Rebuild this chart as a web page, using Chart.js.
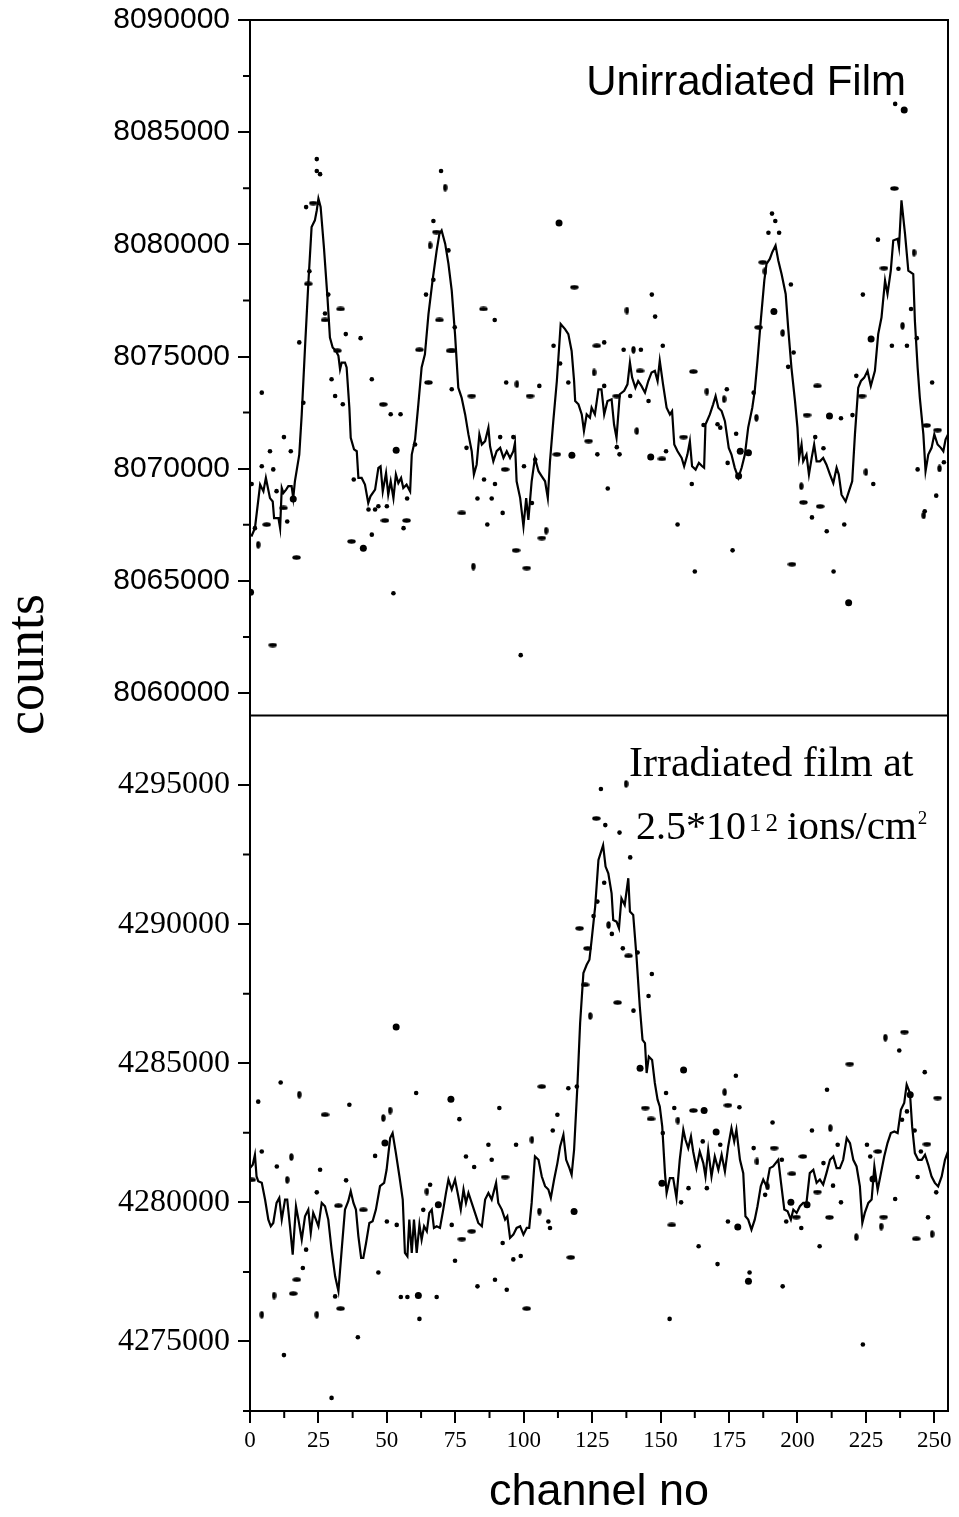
<!DOCTYPE html>
<html>
<head>
<meta charset="utf-8">
<script src="https://cdn.jsdelivr.net/npm/chart.js@4/dist/chart.umd.min.js"></script>
<style>
html,body{margin:0;padding:0;background:#fff;}
#wrap{position:relative;width:959px;height:1517px;}
</style>
</head>
<body>
<div id="wrap"><canvas id="c" width="959" height="1517"></canvas></div>
<script>
// ---------------- DATA ----------------
const xTickValues = [0, 25, 50, 75, 100, 125, 150, 175, 200, 225, 250];
const xMinorTicks = [12.5, 37.5, 62.5, 87.5, 112.5, 137.5, 162.5, 187.5, 212.5, 237.5];
const topTickValues = [8060000, 8065000, 8070000, 8075000, 8080000, 8085000, 8090000];
const topMinorTicks = [8062500, 8067500, 8072500, 8077500, 8082500, 8087500];
const bottomTickValues = [4275000, 4280000, 4285000, 4290000, 4295000];
const bottomMinorTicks = [4272500, 4277500, 4282500, 4287500, 4292500];

// Unirradiated film: [channel, counts]
const topSpectrum = [
[0.5,8066980],[1.8,8067350],[3.7,8069290],[4.9,8068990],[5.8,8069590],[7.3,8068690],[8.3,8068540],[8.8,8067800],
[10.4,8067800],[11.0,8067350],[11.6,8069140],[12.2,8068920],[13.2,8069070],[14.0,8069220],[15.2,8069220],[15.8,8068690],
[16.4,8069440],[18.0,8070630],[18.9,8072420],[20.1,8075400],[21.3,8078240],[22.5,8080770],[23.7,8081070],[24.4,8081520],
[25.0,8082040],[25.8,8081670],[27.0,8079880],[28.3,8077640],[29.2,8075850],[30.2,8075400],[31.4,8075250],[32.3,8075030],
[32.9,8074430],[33.5,8074730],[34.7,8074730],[35.3,8074510],[36.3,8072720],[36.8,8071380],[38.0,8070860],[39.0,8070780],
[39.6,8069590],[40.8,8069590],[42.0,8069290],[43.2,8068470],[44.0,8068770],[45.7,8069070],[46.9,8070040],[47.7,8070110],
[48.5,8068990],[49.7,8069810],[50.5,8068840],[51.4,8069440],[52.4,8068690],[53.3,8069740],[54.2,8069360],[55.2,8069590],
[56.0,8069140],[57.2,8069290],[58.5,8068990],[59.1,8070630],[60.3,8071300],[61.5,8072870],[62.7,8074510],[63.9,8075100],
[65.2,8076890],[66.7,8078390],[68.2,8079730],[69.2,8080470],[70.0,8080620],[71.3,8080030],[72.5,8079130],[73.7,8077940],
[74.9,8076000],[76.1,8073610],[77.3,8073170],[78.6,8072420],[79.8,8071530],[81.0,8070780],[81.8,8069740],[82.8,8070180],
[83.8,8071530],[84.7,8071080],[85.9,8071230],[87.1,8071830],[87.7,8071000],[88.9,8070330],[90.1,8070780],[91.4,8070930],
[92.6,8070480],[93.8,8070780],[95.0,8070480],[96.2,8070780],[96.8,8071150],[97.4,8069440],[98.7,8068690],[99.9,8067430],
[100.9,8068690],[101.7,8067720],[102.9,8069440],[104.1,8070480],[105.4,8069890],[106.6,8069660],[107.8,8069440],[108.8,8068690],
[109.6,8070330],[110.8,8072120],[112.1,8073910],[113.5,8076450],[115.1,8076220],[116.3,8076000],[117.5,8075250],[118.4,8073910],
[118.8,8073020],[120.0,8072870],[121.2,8072420],[122.0,8071680],[123.0,8072420],[124.2,8072270],[124.8,8072720],[126.0,8072420],
[127.3,8073540],[128.4,8073540],[129.4,8072420],[130.6,8073020],[132.1,8073090],[133.0,8071970],[133.9,8071380],[135.1,8073320],
[136.7,8073470],[137.9,8073760],[138.8,8074730],[139.6,8074060],[140.8,8073610],[141.8,8073910],[143.0,8073690],[144.3,8073390],
[145.5,8073910],[146.7,8074290],[147.9,8074360],[148.9,8073910],[149.7,8074810],[150.9,8073760],[152.2,8072720],[153.4,8072420],
[154.2,8072570],[155.0,8071080],[156.2,8070780],[157.7,8070480],[158.6,8070110],[159.8,8070630],[160.7,8071230],[161.5,8070110],
[162.8,8069960],[164.0,8070260],[165.2,8070110],[165.9,8070040],[166.4,8071970],[168.0,8072420],[169.2,8072870],[170.1,8073240],
[171.1,8072720],[172.3,8072570],[173.5,8072120],[174.9,8070930],[175.9,8070630],[177.1,8070040],[178.4,8069590],[179.6,8070040],
[180.8,8070630],[182.0,8071830],[183.5,8072720],[184.4,8073470],[185.4,8074810],[186.6,8076600],[187.9,8078390],[188.7,8079130],
[189.9,8079350],[190.8,8079650],[192.0,8079950],[193.0,8079280],[194.2,8078680],[195.7,8077790],[196.6,8076300],[197.8,8074510],
[199.1,8073020],[200.0,8071830],[200.6,8070480],[201.5,8071080],[202.1,8070330],[203.3,8070630],[204.2,8069740],[205.2,8070480],
[206.1,8071080],[207.0,8070330],[208.2,8070330],[209.4,8070480],[210.6,8070180],[211.9,8069740],[213.1,8069360],[214.3,8070040],
[215.1,8069740],[216.1,8068840],[217.6,8068540],[218.8,8068990],[220.0,8069440],[221.0,8071530],[222.2,8073610],[223.2,8073910],
[224.4,8074060],[225.6,8074360],[226.8,8073690],[228.3,8074360],[229.5,8076000],[230.7,8076740],[232.0,8078390],[232.9,8077790],
[234.1,8078830],[235.0,8080170],[236.6,8080250],[237.1,8079880],[238.0,8081960],[239.3,8080470],[240.5,8078830],[242.3,8078680],
[242.9,8076600],[243.9,8074510],[244.7,8073170],[246.0,8071530],[246.8,8069890],[247.8,8070630],[249.0,8070930],[250.0,8071530],
[251.2,8071080],[252.4,8070930],[253.3,8070780],[254.1,8071300],[255.0,8071530]
];

// Irradiated film: [channel, counts]
const bottomSpectrum = [
[0.0,4281230],[1.0,4281350],[1.8,4281710],[2.4,4280930],[3.0,4280760],[4.3,4280700],[5.5,4280100],[6.7,4279380],
[7.6,4279140],[8.5,4279260],[9.7,4279980],[10.7,4280160],[11.6,4279380],[12.8,4280100],[13.6,4280100],[14.6,4279140],
[15.6,4278120],[16.8,4279860],[17.7,4279380],[18.9,4278660],[20.1,4279500],[21.3,4279740],[22.2,4278900],[23.1,4279620],
[24.1,4279380],[25.0,4279140],[26.2,4279980],[27.4,4279860],[28.6,4279380],[29.8,4278300],[31.1,4277340],[32.3,4276810],
[33.5,4278300],[34.7,4279740],[35.9,4280040],[36.8,4280400],[37.8,4279980],[38.7,4279740],[39.6,4278780],[40.6,4278000],
[41.4,4278000],[42.4,4278540],[43.6,4279260],[44.8,4279320],[46.0,4279740],[47.5,4280580],[49.0,4280700],[49.9,4281170],
[51.2,4282310],[52.1,4282490],[53.3,4281770],[54.6,4280930],[55.8,4280100],[56.6,4278180],[57.5,4278060],[58.2,4279380],
[59.1,4278180],[59.9,4279380],[60.9,4278180],[61.9,4279200],[62.7,4278660],[63.6,4279140],[64.6,4278960],[65.5,4279620],
[66.4,4279740],[67.2,4279080],[68.2,4279140],[69.4,4279080],[70.6,4279740],[71.6,4280340],[72.5,4280820],[73.7,4280460],
[74.9,4280820],[76.1,4280220],[77.0,4279740],[78.0,4280460],[78.9,4279980],[79.8,4280340],[81.0,4279980],[82.2,4279620],
[83.4,4279260],[84.7,4279140],[85.9,4280100],[87.1,4280340],[88.3,4280100],[89.9,4280700],[90.7,4279980],[92.0,4279740],
[93.2,4279380],[94.0,4279500],[95.0,4278720],[96.2,4278840],[97.4,4279080],[98.7,4279140],[99.9,4278840],[101.1,4279080],
[102.0,4279080],[102.9,4279980],[104.1,4281650],[105.4,4281530],[106.6,4280930],[107.8,4280580],[109.0,4280460],[109.9,4280160],
[111.1,4280820],[112.3,4281410],[113.3,4282010],[114.5,4282430],[115.5,4281530],[116.7,4281230],[117.5,4280990],[118.4,4281890],
[119.6,4284170],[120.6,4286440],[121.8,4288240],[123.0,4288540],[124.0,4288720],[124.8,4289430],[126.1,4290630],[127.3,4292310],
[129.0,4292840],[129.9,4292070],[130.9,4291830],[132.1,4291110],[132.7,4290150],[133.9,4290090],[134.8,4289850],[135.7,4290930],
[136.9,4290690],[138.2,4291650],[138.8,4290450],[140.0,4290330],[141.2,4288830],[142.4,4287040],[143.4,4285840],[144.3,4285720],
[144.9,4284650],[145.7,4285240],[146.9,4285120],[147.9,4284290],[148.9,4283690],[149.7,4283450],[150.6,4282730],[151.6,4281050],
[152.2,4280340],[153.4,4280870],[154.6,4280870],[155.8,4280160],[157.0,4281530],[158.3,4282610],[159.1,4282250],[160.1,4281950],
[161.1,4282370],[161.9,4281830],[163.1,4281230],[164.3,4281830],[165.6,4281410],[166.4,4280930],[167.4,4281890],[168.6,4280930],
[169.8,4281650],[171.1,4281170],[172.3,4281710],[173.5,4281110],[174.7,4282010],[175.9,4282670],[176.9,4282190],[177.7,4282610],
[179.0,4281530],[180.2,4281050],[181.0,4279500],[182.0,4279380],[183.2,4279020],[184.4,4279380],[185.4,4279860],[186.6,4280580],
[187.5,4280820],[188.7,4280580],[189.9,4281230],[191.1,4281290],[193.0,4281530],[194.0,4280700],[195.2,4279740],[196.4,4279680],
[197.6,4279380],[198.5,4279740],[199.7,4279620],[200.9,4279860],[202.1,4279980],[203.3,4279980],[204.5,4281050],[205.8,4281170],
[207.0,4280700],[208.2,4280820],[209.4,4280640],[210.6,4281050],[211.9,4281530],[213.1,4281650],[214.3,4281230],[215.5,4281230],
[216.7,4281530],[218.0,4282310],[219.2,4282130],[220.4,4281530],[221.6,4281290],[222.8,4280580],[223.7,4279260],[224.6,4279620],
[225.9,4279980],[227.1,4280100],[228.1,4281290],[229.3,4280450],[230.5,4281050],[231.7,4281650],[232.9,4282130],[234.1,4282490],
[235.4,4282550],[236.6,4282490],[237.8,4283330],[239.0,4283570],[239.9,4284230],[241.1,4283930],[241.9,4282730],[242.9,4281770],
[244.1,4281530],[245.4,4281530],[246.6,4281710],[247.8,4281350],[249.0,4280930],[250.2,4280700],[251.4,4280570],[252.7,4280930],
[253.9,4281530],[255.0,4281830]
];

// Scattered raw points, top panel: [channel, counts]
const topDotsSmall = [
[24.4,8083800],[24.4,8083270],[25.6,8083130],[20.5,8081660],[21.7,8078800],[28.6,8077760],[27.4,8076920],[35.0,8076000],
[40.4,8075820],[18.0,8075630],[69.8,8083270],[67.0,8081040],[72.5,8079730],[67.0,8078420],[64.3,8077760],[74.8,8076300],
[235.7,8086260],[229.4,8080210],[236.9,8078910],[223.9,8077760],[241.5,8077120],[234.5,8075480],[240.0,8075480],[243.6,8075820],
[89.4,8076630],[110.9,8075480],[129.4,8075630],[146.8,8077760],[148.0,8076780],[136.5,8075300],[142.8,8075300],[150.8,8075480],
[190.7,8081370],[191.9,8081040],[189.4,8080520],[193.3,8080520],[197.6,8078210],[198.6,8075180],[113.3,8074690],
[4.3,8073390],[0.6,8069320],[1.8,8067350],[7.3,8070780],[4.3,8070110],[8.5,8069970],[12.4,8071410],[14.9,8070780],
[9.7,8069000],[13.6,8067650],[19.5,8072940],[29.8,8073990],[31.1,8073240],[33.9,8072870],[44.5,8073990],[51.4,8072430],
[55.0,8072430],[37.9,8069520],[43.3,8068180],[45.7,8068180],[46.9,8068330],[50.0,8068330],[44.5,8067060],[56.1,8067350],
[57.4,8068670],[52.4,8064450],[73.7,8073540],[79.1,8070930],[83.1,8068670],[60.3,8071080],
[93.6,8073840],[105.7,8073690],[116.3,8073840],[129.4,8073690],[138.9,8073240],[145.6,8073020],[85.5,8069520],[89.5,8069320],
[91.4,8071410],[96.2,8071410],[88.3,8068670],[92.3,8068030],[86.7,8067510],[100.1,8070110],[104.2,8070410],[103.0,8068470],
[98.9,8061690],[126.9,8070640],[130.7,8069120],[134.0,8070960],[135.0,8070640],[152.0,8070780],[156.2,8067510],[161.4,8069320],
[162.5,8065420],[174.2,8073540],[170.8,8071980],[171.8,8071830],[165.7,8071950],[177.6,8071560],[174.5,8070260],[184.0,8073390],
[176.3,8066360],[196.6,8074540],[206.5,8071410],[209.5,8070910],[205.3,8067830],[210.7,8067210],[217.1,8067510],[213.2,8065420],
[221.5,8074140],[227.7,8069320],[249.2,8073840],[253.5,8070290],[243.9,8069970],[250.7,8068800],[215.9,8072250],[220.1,8072390],
[246.5,8068100]
];
const topDotsWide = [
[23.1,8081840],[21.3,8078240],[27.4,8076630],[33.1,8077120],[31.9,8075260],[68.1,8080550],[69.2,8076630],[61.9,8075300],
[73.1,8075260],[74.1,8075260],[235.4,8082490],[231.6,8078940],[118.5,8078090],[85.3,8077120],[126.7,8075480],[187.3,8079200],
[185.8,8076300],[6.1,8067510],[12.2,8068250],[17.0,8066040],[8.3,8062140],[48.7,8072870],[37.1,8066760],[49.3,8067690],
[57.2,8067690],[65.2,8073840],[81.0,8073240],[77.4,8068030],[102.3,8073240],[134.0,8073240],[142.5,8074360],[93.2,8069970],
[106.6,8066910],[97.2,8066360],[101.1,8065570],[112.1,8070640],[123.7,8071230],[150.5,8070440],[158.4,8071410],[162.0,8074330],
[198.0,8065740],[207.3,8073690],[203.5,8072390],[202.2,8068500],[208.3,8068320],[223.6,8073240],[247.2,8071930],[251.2,8071720]
];
const topDotsTall = [
[71.3,8082530],[65.8,8079950],[242.6,8079630],[238.4,8076370],[137.7,8077050],[140.1,8075300],[188.1,8078800],[194.6,8076050],
[3.0,8066610],[81.6,8065640],[97.5,8073770],[125.7,8074290],[141.3,8071680],[108.2,8067240],[166.9,8073440],[173.2,8073100],
[185.0,8072270],[201.4,8069220],[225.0,8069850],[251.9,8070010],[246.1,8067920]
];
const topDotsBig = [
[239.0,8085990],[226.9,8075780],[112.9,8080950],[191.4,8077010],[0.2,8064490],[15.8,8068650],[53.4,8070820],[41.4,8066460],
[117.6,8070600],[146.4,8070520],[179.1,8070780],[182.1,8070710],[178.5,8069670],[211.7,8072350],[218.7,8064030]
];

// Scattered raw points, bottom panel: [channel, counts]
const bottomDotsSmall = [
[128.2,4294860],[129.8,4293560],[135.0,4293290],[138.9,4292400],[129.4,4291490],[126.9,4290810],[125.5,4290290],[132.2,4289650],
[136.2,4289130],[141.6,4288980],[146.8,4288210],[145.6,4287420],[140.1,4286890],[237.2,4285460],[246.5,4284680],[177.5,4284550],
[11.2,4284310],[3.0,4283620],[36.3,4283510],[60.7,4283930],[76.5,4282990],[4.3,4281830],[9.8,4281290],[25.6,4281170],
[24.4,4280360],[45.7,4281670],[35.1,4280790],[50.0,4279310],[53.6,4279190],[63.3,4279730],[65.8,4280630],[78.9,4281650],
[81.9,4281270],[73.7,4279190],[74.9,4277900],[83.1,4276980],[20.5,4278300],[19.3,4277640],[12.4,4274510],[31.1,4276620],
[39.4,4275150],[29.8,4272970],[46.9,4277480],[55.1,4276600],[57.5,4276600],[61.9,4275810],[68.2,4276600],
[116.3,4284100],[119.4,4284160],[91.1,4283390],[87.1,4282070],[88.3,4281530],[97.2,4282070],[112.3,4283150],[110.6,4282580],
[109.0,4279310],[109.6,4279080],[92.3,4278540],[96.2,4277950],[98.9,4278070],[89.5,4277220],[93.8,4276860],[152.0,4283930],
[155.0,4283390],[150.8,4282490],[165.4,4282190],[171.8,4282070],[160.2,4280510],[166.9,4280510],[157.5,4280000],[163.9,4278420],
[170.8,4277780],[153.3,4275810],[174.6,4279310],[182.5,4277480],[184.0,4281950],[190.9,4282870],[194.3,4281530],[188.2,4280270],
[195.9,4279310],[201.4,4279080],[194.6,4276980],[205.3,4282580],[210.8,4284050],[209.5,4281410],[213.0,4280600],[215.9,4280000],
[208.1,4278420],[214.7,4282070],[225.4,4282070],[226.6,4281650],[223.9,4274890],[235.7,4280120],[238.2,4282970],[240.0,4283270],
[242.8,4282580],[245.1,4281830],[243.9,4280910],[250.7,4280360],[247.7,4279460],[178.8,4283420]
];
const bottomDotsWide = [
[126.5,4293800],[120.4,4289850],[138.3,4288860],[123.3,4289130],[122.4,4287820],[134.3,4287180],[239.1,4286120],[219.1,4284970],
[27.4,4283150],[0.6,4280810],[32.3,4279880],[41.4,4279730],[77.4,4278680],[81.0,4278960],[17.1,4277220],[15.8,4276720],
[33.1,4276180],[106.6,4284160],[93.2,4280910],[117.2,4278020],[101.1,4276180],[144.4,4283390],[146.5,4283000],[162.0,4283300],
[154.1,4279190],[174.6,4283490],[191.5,4281950],[198.0,4281030],[199.6,4279470],[202.0,4281650],[207.3,4280370],[211.7,4279460],
[229.4,4281830],[231.5,4279470],[247.3,4282090],[243.4,4278690],[251.2,4283750]
];
const bottomDotsTall = [
[137.4,4295040],[131.0,4289970],[124.3,4286700],[232.1,4285920],[18.0,4283870],[48.7,4283030],[51.2,4283300],[15.1,4281630],
[13.6,4280810],[64.6,4280390],[8.8,4276650],[4.3,4275960],[24.4,4275960],[103.0,4282250],[105.7,4279670],[156.3,4282940],
[173.4,4283960],[185.2,4281470],[189.1,4280570],[212.0,4282670],[221.5,4278750],[230.6,4279130],[249.2,4278860]
];
const bottomDotsBig = [
[53.4,4286300],[158.4,4284760],[142.5,4284820],[73.4,4283710],[49.3,4282130],[68.8,4279910],[61.5,4276650],[118.4,4279670],
[165.9,4283300],[170.3,4282530],[150.5,4280690],[178.2,4279110],[182.1,4277160],[197.6,4280000],[203.5,4279910],[227.6,4280840],
[241.2,4283870]
];

// ---------------- RENDERING ----------------
const toXY = arr => arr.map(p => ({x: p[0], y: p[1]}));

function ellipseCanvas(w, h) {
  const c = document.createElement('canvas');
  c.width = w; c.height = h;
  const g = c.getContext('2d');
  g.fillStyle = '#000';
  g.beginPath();
  g.ellipse(w / 2, h / 2, w / 2 - 0.3, h / 2 - 0.3, 0, 0, Math.PI * 2);
  g.fill();
  return c;
}
const wideDot = ellipseCanvas(9, 5);
const tallDot = ellipseCanvas(5, 8);

function dotSet(data, axis, style, radius) {
  return {
    type: 'scatter', data: toXY(data), yAxisID: axis, showLine: false,
    pointStyle: style, pointRadius: radius, pointHoverRadius: radius,
    pointBackgroundColor: '#000', pointBorderColor: '#000', pointBorderWidth: 0, order: 2
  };
}
function lineSet(data, axis) {
  return {
    type: 'scatter', data: toXY(data), yAxisID: axis, showLine: true,
    borderColor: '#000', borderWidth: 2.2, pointRadius: 0, tension: 0, fill: false, order: 1
  };
}

const black = '#000';
const framePlugin = {
  id: 'frameAndMinor',
  afterDraw(chart) {
    const ctx = chart.ctx;
    const a = chart.chartArea;
    const {x, y1, y2} = chart.scales;
    ctx.save();
    ctx.strokeStyle = black;
    ctx.lineWidth = 2;
    ctx.beginPath();
    ctx.moveTo(a.left, a.top); ctx.lineTo(a.right, a.top); ctx.lineTo(a.right, a.bottom);
    ctx.moveTo(a.left, y1.bottom); ctx.lineTo(a.right, y1.bottom);
    xMinorTicks.forEach(v => { const p = x.getPixelForValue(v); ctx.moveTo(p, x.top); ctx.lineTo(p, x.top + 7); });
    topMinorTicks.forEach(v => { const p = y1.getPixelForValue(v); ctx.moveTo(y1.right - 7, p); ctx.lineTo(y1.right, p); });
    bottomMinorTicks.forEach(v => { const p = y2.getPixelForValue(v); ctx.moveTo(y2.right - 7, p); ctx.lineTo(y2.right, p); });
    ctx.stroke();

    // texts
    ctx.fillStyle = black;
    ctx.textBaseline = 'alphabetic';
    // y-axis title
    ctx.save();
    ctx.font = '54px "Liberation Serif"';
    ctx.translate(a.left - 207, y1.bottom - 51);
    ctx.rotate(-Math.PI / 2);
    ctx.textAlign = 'center';
    ctx.fillText('counts', 0, 0);
    ctx.restore();

    // top panel label
    ctx.font = '42px "Liberation Sans"';
    ctx.textAlign = 'right';
    ctx.fillText('Unirradiated Film', a.right - 42, a.top + 75);

    // bottom panel label
    ctx.textAlign = 'left';
    ctx.font = '42px "Liberation Serif"';
    ctx.fillText('Irradiated film at', a.left + 379, y2.top + 60);
    let tx = a.left + 386;
    const base = y2.top + 123;
    ctx.font = '40px "Liberation Serif"';
    ctx.fillText('2.5*10', tx, base);
    tx += ctx.measureText('2.5*10').width + 3;
    ctx.font = '25px "Liberation Serif"';
    ctx.fillText('1', tx, base - 8);
    tx += ctx.measureText('1').width + 4;
    ctx.fillText('2', tx, base - 8);
    tx += ctx.measureText('2').width + 9;
    ctx.font = '41px "Liberation Serif"';
    ctx.fillText('ions/cm', tx, base);
    tx += ctx.measureText('ions/cm').width + 1;
    ctx.font = '19px "Liberation Serif"';
    ctx.fillText('2', tx, base - 15);
    ctx.restore();
  }
};

const gridOpts = {display: true, drawOnChartArea: false, drawTicks: true, tickLength: 12, color: black, lineWidth: 2};
const borderOpts = {display: true, color: black, width: 2};
function noEdgePadding(s) { s.paddingTop = 0; s.paddingBottom = 0; s.paddingLeft = 0; s.paddingRight = 0; }

new Chart(document.getElementById('c'), {
  type: 'scatter',
  data: {
    datasets: [
      lineSet(topSpectrum, 'y1'),
      lineSet(bottomSpectrum, 'y2'),
      dotSet(topDotsSmall, 'y1', 'circle', 2.3),
      dotSet(topDotsWide, 'y1', wideDot, 4),
      dotSet(topDotsTall, 'y1', tallDot, 4),
      dotSet(topDotsBig, 'y1', 'circle', 3.5),
      dotSet(bottomDotsSmall, 'y2', 'circle', 2.3),
      dotSet(bottomDotsWide, 'y2', wideDot, 4),
      dotSet(bottomDotsTall, 'y2', tallDot, 4),
      dotSet(bottomDotsBig, 'y2', 'circle', 3.5)
    ]
  },
  options: {
    responsive: false,
    animation: false,
    devicePixelRatio: 1,
    layout: {padding: {top: 20, right: 11, bottom: 0, left: 0}},
    plugins: {legend: {display: false}, tooltip: {enabled: false}},
    scales: {
      x: {
        type: 'linear', position: 'bottom', min: 0, max: 255,
        afterBuildTicks: s => { s.ticks = xTickValues.map(v => ({value: v})); },
        afterFit: s => { s.height = 106; noEdgePadding(s); },
        grid: gridOpts, border: borderOpts,
        ticks: {font: {family: 'Liberation Serif', size: 23}, color: black, padding: 4, maxRotation: 0, autoSkip: false},
        title: {display: true, text: 'channel no', color: black,
                font: {family: 'Liberation Sans', size: 45, lineHeight: 1}, padding: {top: 0, bottom: 2}}
      },
      y1: {
        type: 'linear', position: 'left', stack: 'panels', stackWeight: 1, weight: 2,
        min: 8059000, max: 8090000,
        afterBuildTicks: s => { s.ticks = topTickValues.map(v => ({value: v})); },
        afterFit: s => { s.width = 250; noEdgePadding(s); },
        grid: gridOpts, border: borderOpts,
        ticks: {font: {family: 'Liberation Sans', size: 30}, color: black, padding: 8, autoSkip: false,
                callback: v => String(v)}
      },
      y2: {
        type: 'linear', position: 'left', stack: 'panels', stackWeight: 1, weight: 1,
        min: 4272500, max: 4297500,
        afterBuildTicks: s => { s.ticks = bottomTickValues.map(v => ({value: v})); },
        afterFit: s => { s.width = 250; noEdgePadding(s); },
        grid: gridOpts, border: borderOpts,
        ticks: {font: {family: 'Liberation Serif', size: 32}, color: black, padding: 8, autoSkip: false,
                callback: v => String(v)}
      }
    }
  },
  plugins: [framePlugin]
});
</script>
</body>
</html>
